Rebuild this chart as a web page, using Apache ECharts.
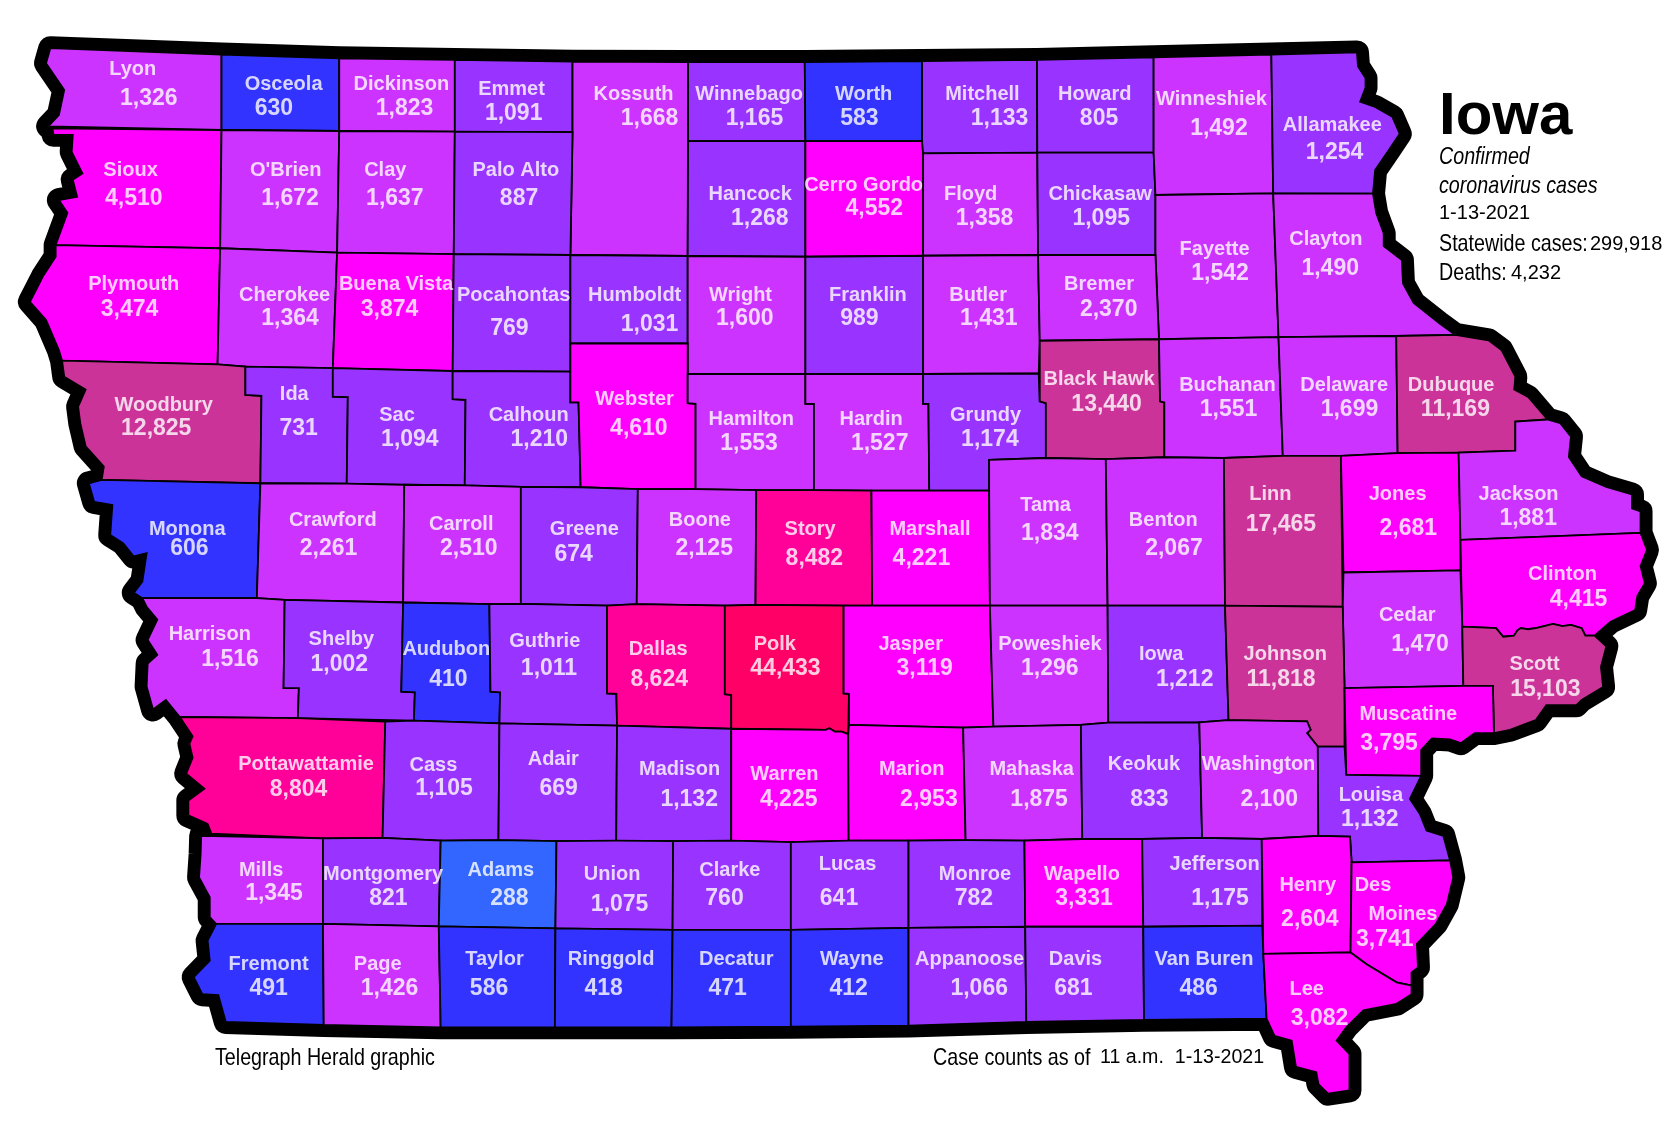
<!DOCTYPE html>
<html>
<head>
<meta charset="utf-8">
<title>Iowa confirmed coronavirus cases</title>
<script src="https://cdn.jsdelivr.net/npm/echarts@6/dist/echarts.min.js"></script>
<style>
  html, body { margin: 0; padding: 0; background: #fff; }
  #main { width: 1678px; height: 1144px; }
</style>
</head>
<body>
<div id="main"></div>
<script>
// county names and case counts, same order in both
var countyNames = ['Lyon','Osceola','Dickinson','Emmet','Kossuth','Winnebago','Worth','Mitchell','Howard','Winneshiek','Allamakee',
  'Sioux',"O'Brien",'Clay','Palo Alto','Hancock','Cerro Gordo','Floyd','Chickasaw','Fayette','Clayton',
  'Plymouth','Cherokee','Buena Vista','Pocahontas','Humboldt','Wright','Franklin','Butler','Bremer',
  'Woodbury','Ida','Sac','Calhoun','Webster','Hamilton','Hardin','Grundy','Black Hawk','Buchanan','Delaware','Dubuque',
  'Monona','Crawford','Carroll','Greene','Boone','Story','Marshall','Tama','Benton','Linn','Jones','Jackson','Clinton','Cedar',
  'Harrison','Shelby','Audubon','Guthrie','Dallas','Polk','Jasper','Poweshiek','Iowa','Johnson','Scott','Muscatine',
  'Pottawattamie','Cass','Adair','Madison','Warren','Marion','Mahaska','Keokuk','Washington','Louisa',
  'Mills','Montgomery','Adams','Union','Clarke','Lucas','Monroe','Wapello','Jefferson','Henry','Des Moines',
  'Fremont','Page','Taylor','Ringgold','Decatur','Wayne','Appanoose','Davis','Van Buren','Lee'];
var countyCases = [1326,630,1823,1091,1668,1165,583,1133,805,1492,1254,
  4510,1672,1637,887,1268,4552,1358,1095,1542,1490,
  3474,1364,3874,769,1031,1600,989,1431,2370,
  12825,731,1094,1210,4610,1553,1527,1174,13440,1551,1699,11169,
  606,2261,2510,674,2125,8482,4221,1834,2067,17465,2681,1881,4415,1470,
  1516,1002,410,1011,8624,44433,3119,1296,1212,11818,15103,3795,
  8804,1105,669,1132,4225,2953,1875,833,2100,1132,
  1345,821,288,1075,760,641,782,3331,1175,2604,3741,
  491,1426,586,418,471,412,1066,681,486,3082];

// colour classes
var classTops = [299, 635, 1280, 2550, 5000, 10000, 20000, 100000];
var classColors = ['#3366ff','#3333ff','#9933ff','#cc33ff','#ff00ff','#ff0099','#cc3399','#ff0066'];

// where the county name and the count sit, same order as countyNames
var nameSpots = [[124,63],[265,77],[375,77],[478,82],[592,86],[700,86],[807,86],[918,86],[1023,86],[1132,91],[1245,115],
  [122,157],[267,157],[360,157],[482,157],[701,180],[807,171],[907,180],[1028,180],[1135,231],[1239,222],
  [125,264],[266,274],[370,264],[480,274],[593,274],[692,274],[811,274],[914,274],[1027,264],
  [153,377],[275,367],[371,386],[494,386],[593,371],[702,390],[814,390],[921,386],[1027,353],[1147,358],[1256,358],[1356,358],
  [175,493],[311,484],[431,488],[546,493],[654,484],[757,493],[869,493],[977,470],[1087,484],[1187,460],[1306,460],[1419,460],[1460,535],[1315,573],
  [196,591],[319,596],[417,605],[509,597],[615,605],[724,600],[851,600],[981,600],[1085,610],[1201,610],[1434,619],[1316,666],
  [286,712],[405,713],[517,708],[635,717],[733,722],[852,717],[964,717],[1069,712],[1176,712],[1281,741],
  [244,811],[358,815],[468,811],[572,815],[682,811],[792,806],[911,815],[1011,815],[1135,806],[1222,825],[1283,825],
  [251,899],[353,899],[462,895],[571,895],[688,895],[796,895],[906,895],[1005,895],[1125,895],[1221,923]];
var valueSpots = [[139,90],[256,100],[378,100],[480,104],[607,109],[705,109],[803,109],[934,109],[1027,109],[1139,118],[1247,141],
  [125,184],[271,184],[369,184],[485,184],[710,202],[817,193],[920,202],[1029,202],[1140,254],[1243,249],
  [121,287],[271,296],[364,287],[476,305],[607,301],[696,296],[803,296],[924,296],[1036,287],
  [146,399],[279,399],[383,409],[504,409],[597,399],[700,413],[822,413],[925,409],[1034,376],[1148,381],[1261,381],[1360,381],
  [177,511],[307,511],[438,511],[536,516],[658,511],[761,520],[861,520],[981,497],[1097,511],[1197,488],[1316,492],[1428,483],[1475,558],[1327,600],
  [215,614],[317,619],[419,633],[513,623],[616,633],[734,623],[864,623],[981,623],[1107,633],[1197,633],[1444,642],[1298,693],
  [279,736],[415,735],[522,735],[644,745],[737,745],[868,745],[971,745],[1074,745],[1186,745],[1280,764],
  [256,833],[363,838],[476,838],[579,843],[677,838],[784,838],[910,838],[1013,838],[1140,838],[1224,857],[1294,876],
  [251,922],[364,922],[457,922],[564,922],[680,922],[793,922],[915,922],[1003,922],[1120,922],[1233,950]];
var extraNameLines = [{text:'Moines', at:[1311,853]}];
var firstNameLine = {'Des Moines':'Des'};
var labelDrop = 2;

// river edges of the state, clockwise
var eAllamakee = [[1268,49],[1269,62],[1276,73],[1276,82],[1271,95],[1285,100],[1301,109],[1308,125],[1298,140],[1285,159],[1283,181]];
var eClayton = [[1283,181],[1286,199],[1293,218],[1293,230],[1310,243],[1311,265],[1321,283],[1345,302],[1360,313]];
var eDubuque = [[1360,313],[1391,318],[1403,327],[1416,352],[1415,364],[1428,371],[1446,392]];
var eJackson = [[1446,392],[1458,395.5],[1468,408],[1466,427],[1478,445],[1501,455],[1525,462],[1525,475],[1533,478],[1533,498]];
var eClinton = [[1533,498],[1539,514],[1533,529],[1537,545],[1530,557],[1528,570],[1505,581],[1490,594]];
var eScott = [[1490,594],[1501,604],[1496,623],[1498,642],[1478,654],[1473,659],[1445,659],[1435,673],[1411,682],[1396,685]];
var eMuscatine = [[1396,685],[1378,685],[1365,694.5],[1355,691],[1338,690],[1328,701],[1328,725]];
var eLouisa = [[1328,725],[1317.5,746.6],[1327,761],[1333,776],[1348.7,781],[1355,804]];
var eDesMoines = [[1355,804],[1358,820],[1352,845],[1342,863],[1324,882],[1325,904],[1319,908.6],[1319,921]];
var eLee = [[1319,921],[1319,929],[1305,938],[1274,944],[1258,960],[1249,972.4],[1261,985],[1261,1019],[1241,1022],[1232,1013],[1230,1002],[1211,997],[1207,972.4],[1191,968],[1183.6,952]];
var wFremont = [[211,955],[204,930],[189,929],[181,913],[196,897.7],[194,879],[202,863.4]];
var wMills = [[202,863.4],[196,857],[196,838.5],[186,820],[187.5,798],[188,781]];
var wPott = [[197.5,779],[194,770],[176,762],[176,748],[191,737],[174,723],[180,708],[177,695],[180,688],[168,670]];
var wHarrison = [[168,670],[155,654],[143,663],[137,641.6],[138,620],[147,612],[138,598],[147,579],[137,567],[133,559]];
var wMonona = [[133,559],[125,554],[133,543.5],[137,517],[125,520],[115,507.6],[103,500],[105,472],[88,469],[83,451.6]];
var wWoodbury = [[95,448.5],[97,436],[80,417],[75,395.5],[73,380],[80,364],[60,352],[58,337]];
var wPlymouth = [[58,337],[55,327],[43,299],[28,282],[40,258.5],[52,240],[52,229]];
var wSioux = [[52,229],[63,199],[55,187],[72,184],[68,168],[77,162],[67,142],[68,126],[50,126],[49,120]];
var wLyon = [[45,118],[55,107.5],[60,84],[43,59],[47,45]];
var scottTop = [[1366.4,585.5],[1398,587],[1404.7,595],[1414.7,594],[1418,589],[1421,587],[1428,588],[1435,587],[1443,585],[1451,583],[1460,585],[1468,584],[1478,587],[1481.4,594],[1490,594]];

// county outlines
var countyShapes = {
  'Lyon': wLyon.concat([[207,51],[207,121.5]]),
  'Osceola': [[207,51],[317,54.5],[317,122.4],[207,121.5]],
  'Dickinson': [[317,54.5],[425,56],[425,123],[317,122.4]],
  'Emmet': [[425,56],[535,57.6],[535,123.4],[425,123]],
  'Kossuth': [[535,57.6],[643,58],[642.6,239.2],[533,238.3],[535,123.4]],
  'Winnebago': [[643,58],[752,58],[752.6,131.8],[643,131.8]],
  'Hancock': [[643,131.8],[752.6,131.8],[752.6,239.9],[642.6,239.2]],
  'Worth': [[752,58],[861.6,57],[861.6,131.8],[752.6,131.8]],
  'Cerro Gordo': [[752.6,131.8],[861.6,131.8],[862.6,143.3],[862.6,239],[752.6,239.9]],
  'Mitchell': [[861.6,57],[969,56],[969.3,142.7],[862.6,143.3],[861.6,131.8]],
  'Floyd': [[862.6,143.3],[969.3,142.7],[970,238.3],[862.6,239]],
  'Howard': [[969,56],[1078,53.6],[1078,142.7],[969.3,142.7]],
  'Chickasaw': [[969.3,142.7],[1078,142.7],[1079.7,182.2],[1079.7,238.3],[970,238.3]],
  'Winneshiek': [[1078,53.6],[1188,51],[1189.7,180.7],[1079.7,182.2],[1078,142.7]],
  'Allamakee': [[1188,51]].concat(eAllamakee,[[1189.7,180.7]]),
  'Fayette': [[1079.7,182.2],[1189.7,180.7],[1194.7,315],[1083,317],[1079.7,238.3]],
  'Clayton': [[1189.7,180.7]].concat(eClayton,[[1304.7,314],[1194.7,315]]),
  'Sioux': wSioux.concat([[207,121.5],[205.7,232]]),
  "O'Brien": [[207,121.5],[317,122.4],[315,236],[205.7,232]],
  'Clay': [[317,122.4],[425,123],[424,237.4],[315,236]],
  'Palo Alto': [[425,123],[535,123.4],[533,238.3],[424,237.4]],
  'Plymouth': wPlymouth.concat([[205.7,232],[203.3,340.5]]),
  'Cherokee': [[205.7,232],[315,236],[311,344],[229.3,342.6],[203.3,340.5]],
  'Buena Vista': [[315,236],[424,237.4],[423,346.7],[311,344]],
  'Pocahontas': [[424,237.4],[533,238.3],[533,347.3],[423,346.7]],
  'Humboldt': [[533,238.3],[642.6,239.2],[642.6,321],[533,321]],
  'Wright': [[642.6,239.2],[752.6,239.9],[752.6,349.5],[642.6,349.5]],
  'Franklin': [[752.6,239.9],[862.6,239],[862.6,349.5],[752.6,349.5]],
  'Butler': [[862.6,239],[970,238.3],[971.6,318.4],[970.6,349],[862.6,349.5]],
  'Bremer': [[970,238.3],[1079.7,238.3],[1083,317],[971.6,318.4]],
  'Woodbury': wWoodbury.concat([[203.3,340.5],[229.3,342.6],[229.3,369],[244.3,370],[243.3,451.6]]),
  'Ida': [[229.3,342.6],[311,344],[311,370.6],[325,371],[324,452],[243.3,451.6],[244.3,370],[229.3,369]],
  'Sac': [[311,344],[423,346.7],[423,373],[435,373.7],[434.3,453.5],[377.7,453],[324,452],[325,371],[311,370.6]],
  'Calhoun': [[423,346.7],[533,347.3],[533,376],[540.6,376],[542.6,455.3],[486.7,455],[434.3,453.5],[435,373.7],[423,373]],
  'Webster': [[533,321],[642.6,321],[642.6,376.8],[650,377.4],[650,457],[596,457],[542.6,455.3],[540.6,376],[533,376]],
  'Hamilton': [[642.6,349.5],[752.6,349.5],[752.6,377.4],[760.6,377.4],[760.6,458],[706.6,458],[650,457],[650,377.4],[642.6,376.8]],
  'Hardin': [[752.6,349.5],[862.6,349.5],[862.6,377.4],[867.6,377.4],[868.3,458.4],[814.3,458.4],[760.6,458],[760.6,377.4],[752.6,377.4]],
  'Grundy': [[862.6,349.5],[970.6,349],[971.6,375],[977.3,376.8],[977.3,428],[924.3,429.8],[924.3,458.4],[868.3,458.4],[867.6,377.4],[862.6,377.4]],
  'Black Hawk': [[971.6,318.4],[1083,317],[1084,375],[1088,376],[1088,427.3],[1033.3,429],[977.3,428],[977.3,376.8],[971.6,375]],
  'Buchanan': [[1083,317],[1194.7,315],[1198.7,426],[1143.7,428],[1088,427.3],[1088,376],[1084,375]],
  'Delaware': [[1194.7,315],[1304.7,314],[1306,423.5],[1253,426],[1198.7,426]],
  'Dubuque': [[1304.7,314]].concat(eDubuque,[[1416,394],[1416,421],[1363,423],[1306,423.5]]),
  'Monona': wMonona.concat([[95,448.5],[243.3,451.6],[240,559]]),
  'Crawford': [[243.3,451.6],[324,452],[377.7,453],[376.7,563],[266,560.6],[240,559]],
  'Carroll': [[377.7,453],[434.3,453.5],[486.7,455],[486.7,564.3],[457.3,564.6],[376.7,563]],
  'Greene': [[486.7,455],[542.6,455.3],[596,457],[595,564.6],[567.3,566],[486.7,564.3]],
  'Boone': [[596,457],[650,457],[706.6,458],[706,565.3],[677.3,566],[595,564.6]],
  'Story': [[706.6,458],[760.6,458],[814.3,458.4],[815,566],[788.3,566],[706,565.3]],
  'Marshall': [[814.3,458.4],[868.3,458.4],[924.3,458.4],[925,566],[815,566]],
  'Tama': [[924.3,429.8],[977.3,428],[1033.3,429],[1035,566],[925,566],[924.3,458.4]],
  'Benton': [[1033.3,429],[1088,427.3],[1143.7,428],[1144.7,566],[1035,566]],
  'Linn': [[1143.7,428],[1198.7,426],[1253,426],[1254.7,567],[1144.7,566]],
  'Jones': [[1253,426],[1306,423.5],[1363,423],[1364.7,504.5],[1364.7,533],[1255.4,535]],
  'Jackson': [[1363,423],[1416,421],[1416,394]].concat(eJackson,[[1364.7,504.5]]),
  'Clinton': [[1364.7,504.5]].concat(eClinton, scottTop.slice().reverse()),
  'Cedar': [[1255.4,535],[1364.7,533],[1366.4,585.5],[1367.4,641],[1256.4,643],[1254.7,567]],
  'Harrison': wHarrison.concat([[240,559],[266,560.6],[265,643],[279.3,643],[278.3,671]]),
  'Shelby': [[266,560.6],[376.7,563],[375,646.3],[387.7,647],[386.7,673.4],[278.3,671],[279.3,643],[265,643]],
  'Audubon': [[376.7,563],[457.3,564.6],[458.3,646.3],[467.3,647],[466.7,676],[386.7,673.4],[387.7,647],[375,646.3]],
  'Guthrie': [[457.3,564.6],[486.7,564.3],[567.3,566],[567.3,648],[576,648.4],[576.6,678],[466.7,676],[467.3,647],[458.3,646.3]],
  'Dallas': [[567.3,566],[595,564.6],[677.3,566],[677.3,648.7],[683.3,649.4],[683.3,681],[576.6,678],[576,648.4],[567.3,648]],
  'Polk': [[677.3,566],[706,565.3],[788.3,566],[788.3,648],[793.3,648.4],[792.6,686],[786.6,683.6],[780,683.6],[775,680.5],[771.6,682],[683.3,681],[683.3,649.4],[677.3,648.7]],
  'Jasper': [[788.3,566],[815,566],[925,566],[927.3,648],[928.3,679],[900,680],[793.3,677.4],[793.3,648.4],[788.3,648]],
  'Poweshiek': [[925,566],[1035,566],[1035.6,675.2],[1010,677.4],[928.3,679],[927.3,648]],
  'Iowa': [[1035,566],[1144.7,566],[1148,673],[1120.7,675],[1035.6,675.2]],
  'Johnson': [[1144.7,566],[1254.7,567],[1256.4,643],[1256.4,697.6],[1231.4,697.6],[1221.4,685],[1224.7,682],[1221.4,674],[1148,673]],
  'Scott': scottTop.concat(eScott,[[1395,641],[1367.4,641]]),
  'Muscatine': [[1256.4,643],[1367.4,641],[1395,641]].concat(eMuscatine,[[1258,724]]),
  'Pottawattamie': wPott.concat([[278.3,671],[360,674.3],[357.5,783],[301.8,783.4]]),
  'Cass': [[360,674.3],[386.7,673.4],[466.7,676],[465.8,785],[411.8,785.5],[357.5,783]],
  'Adair': [[466.7,676],[576.6,678],[575.8,785.5],[520,786],[465.8,785]],
  'Madison': [[576.6,678],[683.3,681],[683.3,785.5],[629,786],[575.8,785.5]],
  'Warren': [[683.3,681],[771.6,682],[775,680.5],[780,683.6],[786.6,683.6],[792.6,686],[793,785.5],[739,787],[683.3,785.5]],
  'Marion': [[793.3,677.4],[900,680],[902.3,785],[849,785.5],[793,785.5],[792.6,686]],
  'Mahaska': [[900,680],[928.3,679],[1010,677.4],[1011.3,784],[957.3,785.5],[902.3,785]],
  'Keokuk': [[1010,677.4],[1035.6,675.2],[1120.7,675],[1123.3,783],[1067.3,784],[1011.3,784]],
  'Washington': [[1120.7,675],[1148,673],[1221.4,674],[1224.7,682],[1221.4,685],[1231.4,697.6],[1231.9,781],[1179,784],[1123.3,783]],
  'Louisa': [[1231.4,697.6],[1256.4,697.6],[1258,724]].concat(eLouisa,[[1263,805.8],[1261.5,781.8],[1231.9,781]]),
  'Mills': wMills.concat([[301.8,783.4],[301.8,863.4]]),
  'Montgomery': [[301.8,783.4],[357.5,783],[411.8,785.5],[410,865.6],[301.8,863.4]],
  'Adams': [[411.8,785.5],[465.8,785],[520,786],[519,867.5],[410,865.6]],
  'Union': [[520,786],[575.8,785.5],[629,786],[628.5,869],[519,867.5]],
  'Clarke': [[629,786],[683.3,785.5],[739,787],[739,869],[628.5,869]],
  'Lucas': [[739,787],[793,785.5],[849,785.5],[849,867],[739,869]],
  'Monroe': [[849,785.5],[902.3,785],[957.3,785.5],[958,866],[849,867]],
  'Wapello': [[957.3,785.5],[1011.3,784],[1067.3,784],[1068.3,866],[958,866]],
  'Jefferson': [[1067.3,784],[1123.3,783],[1179,784],[1179.5,865],[1068.3,866]],
  'Henry': [[1179,784],[1231.9,781],[1261.5,781.8],[1263,805.8],[1262,890],[1180.5,891.4]],
  'Des Moines': [[1263,805.8]].concat(eDesMoines,[[1305,918],[1277,901],[1262,890]]),
  'Fremont': wFremont.concat([[301.8,863.4],[302.5,957.8]]),
  'Page': [[301.8,863.4],[410,865.6],[411.8,960],[302.5,957.8]],
  'Taylor': [[410,865.6],[519,867.5],[518.5,960],[411.8,960]],
  'Ringgold': [[519,867.5],[628.5,869],[627.5,960],[518.5,960]],
  'Decatur': [[628.5,869],[739,869],[739,959.4],[627.5,960]],
  'Wayne': [[739,869],[849,867],[849,958.4],[739,959.4]],
  'Appanoose': [[849,867],[958,866],[959,955],[849,958.4]],
  'Davis': [[958,866],[1068.3,866],[1069,953],[959,955]],
  'Van Buren': [[1068.3,866],[1179.5,865],[1180.5,891.4],[1183.6,952],[1069,953]],
  'Lee': [[1180.5,891.4],[1262,890],[1277,901],[1305,918]].concat(eLee)
};

// whole state, gets the thick black edge
var stateRim = [[47,45],[207,51],[317,54.5],[425,56],[535,57.6],[643,58],[752,58],[861.6,57],[969,56],[1078,53.6],[1188,51]].concat(
  eAllamakee, eClayton, eDubuque, eJackson, eClinton, eScott, eMuscatine, eLouisa, eDesMoines, eLee,
  [[1069,953],[959,955],[849,958.4],[739,959.4],[627.5,960],[518.5,960],[411.8,960],[302.5,957.8]],
  wFremont, wMills, wPott, wHarrison, wMonona, wWoodbury, wPlymouth, wSioux, wLyon);

// shapes are traced in a 1568 wide space, y down
var mapBox = [[0,0],[1568,-1069.02]];
function toGeo(list){
  var out = [];
  for(var i=0;i<list.length;i++){ out.push([list[i][0], -list[i][1]]); }
  out.push(out[0]);
  return out;
}
function feature(name, list){
  return {type:'Feature', properties:{name:name}, geometry:{type:'Polygon', coordinates:[toGeo(list)]}};
}
var features = [];
for(var n in countyShapes){ features.push(feature(n, countyShapes[n])); }
echarts.registerMap('iowaCounties', {type:'FeatureCollection', features:features});
echarts.registerMap('iowaRim', {type:'FeatureCollection', features:[feature('Iowa state', stateRim)]});

function withCommas(v){ return String(v).replace(/\B(?=(\d{3})+$)/g, ','); }

var mapData = [], nameData = [], valueData = [];
for(var i=0;i<countyNames.length;i++){
  var nm = countyNames[i];
  mapData.push({name:nm, value:countyCases[i]});
  nameData.push({value:[nameSpots[i][0], -nameSpots[i][1]-labelDrop], text:firstNameLine[nm] || nm});
  valueData.push({value:[valueSpots[i][0], -valueSpots[i][1]-labelDrop], text:withCommas(countyCases[i])});
}
for(var j=0;j<extraNameLines.length;j++){
  nameData.push({value:[extraNameLines[j].at[0], -extraNameLines[j].at[1]-labelDrop], text:extraNameLines[j].text});
}

var pieces = [], low = 0;
for(var k=0;k<classTops.length;k++){
  pieces.push({gt:low, lte:classTops[k], color:classColors[k]});
  low = classTops[k];
}

var layoutBits = {left:0, top:0, width:1678, height:1144, aspectScale:1, boundingCoords:mapBox, roam:false, silent:true};

function textSeries(data, size){
  return {
    type:'scatter', coordinateSystem:'geo', geoIndex:0, z:5, silent:true,
    symbolSize:0, data:data,
    label:{
      show:true, position:'inside', color:'#fff', fontFamily:'"Liberation Sans", Arial, sans-serif',
      fontWeight:'bold', fontSize:size,
      formatter:function(p){ return p.data.text; }
    },
    labelLayout:{hideOverlap:false}
  };
}

var plainFont = '"Liberation Sans", Arial, sans-serif';
// the side notes are a condensed face: squeeze Liberation Sans sideways
function note(x, y, text, size, squeeze, extra){
  return {
    type:'text', x:x, y:y, scaleX:squeeze, silent:true, z:10,
    style:{text:text, fill:'#000', font:(extra ? extra+' ' : '')+size+'px '+plainFont, textAlign:'left', textVerticalAlign:'middle'}
  };
}

var myChart = echarts.init(document.getElementById('main'));
myChart.setOption({
  animation:false,
  backgroundColor:'#fff',
  geo:Object.assign({map:'iowaCounties', z:0, itemStyle:{areaColor:'transparent', borderWidth:0}, emphasis:{disabled:true}}, layoutBits),
  visualMap:{show:false, type:'piecewise', seriesIndex:1, pieces:pieces},
  series:[
    Object.assign({type:'map', map:'iowaRim', z:2, data:[], label:{show:false}, emphasis:{disabled:true},
      itemStyle:{areaColor:'#000', borderColor:'#000', borderWidth:24, borderJoin:'round'}}, layoutBits),
    Object.assign({type:'map', map:'iowaCounties', z:3, data:mapData, label:{show:false}, emphasis:{disabled:true},
      itemStyle:{borderColor:'#000', borderWidth:1.8}}, layoutBits),
    textSeries(nameData, 20),
    textSeries(valueData, 23)
  ],
  graphic:[
    note(1439, 117, 'Iowa', 60, 1, 'bold'),
    note(1439, 157, 'Confirmed', 24, 0.82, 'italic'),
    note(1439, 186, 'coronavirus cases', 24, 0.82, 'italic'),
    note(1439, 213, '1-13-2021', 20, 1),
    note(1439, 244, 'Statewide cases:', 24, 0.82),
    note(1590, 244, '299,918', 20, 1),
    note(1439, 273, 'Deaths:', 24, 0.82),
    note(1511, 273, '4,232', 20, 1),
    note(215, 1058, 'Telegraph Herald graphic', 24, 0.82),
    note(933, 1058, 'Case counts as of', 24, 0.82),
    note(1100, 1058, '11 a.m.  1-13-2021', 19.6, 1)
  ]
});
</script>
</body>
</html>
